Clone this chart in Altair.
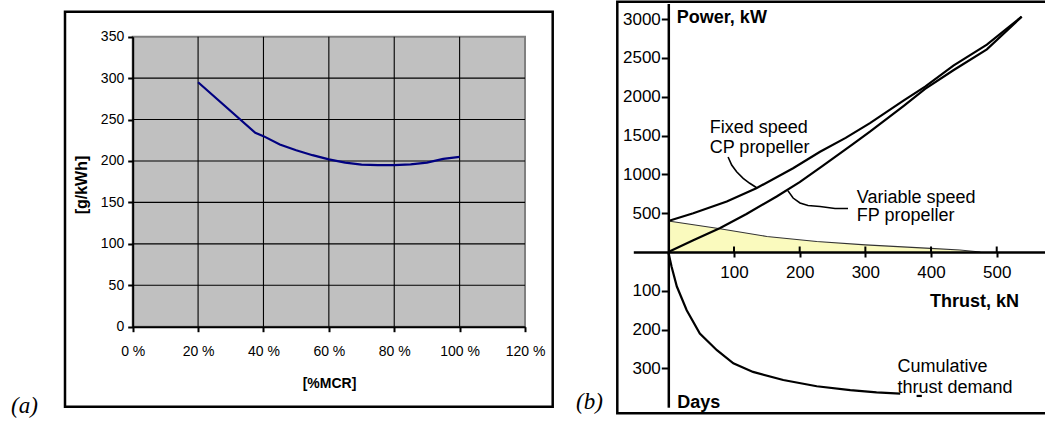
import altair as alt
import pandas as pd

# ---------------- data : panel (a) ----------------
mcr_pct = [20, 37.5, 40, 45, 50, 55, 60, 65, 70, 75, 80, 85, 90, 95, 100]
sfoc = [295, 234, 230, 220, 213, 207, 202, 198, 195.5, 195, 195, 196, 198, 202.5, 205]
a_xticks = [0, 20, 40, 60, 80, 100, 120]
a_yticks = [0, 50, 100, 150, 200, 250, 300, 350]

# ---------------- data : panel (b) ----------------
fixed_thrust = [0, 38, 89, 134, 190, 231, 270, 307, 358, 391, 434, 485, 538]
fixed_power = [400, 498, 649, 821, 1078, 1291, 1470, 1660, 1950, 2130, 2400, 2670, 3030]
var_thrust = [0, 38, 79, 119, 165, 200, 235, 281, 307, 358, 391, 434, 485, 538]
var_power = [0, 150, 310, 490, 715, 900, 1110, 1390, 1550, 1880, 2100, 2340, 2610, 3030]
dist_thrust = [0, 74, 150, 226, 300, 399, 444, 475]
dist_power = [400, 305, 200, 135, 92, 47, 26, 0]
cum_thrust = [0, 5, 13, 28, 48, 74, 99, 129, 175, 226, 277, 317, 353]
cum_days = [0, 38, 89, 150, 210, 253, 287, 309, 330, 346, 356, 362, 365]
cum_tail_thrust = [378, 386]
cum_tail_days = [371, 371]
cp_leader_thrust = [91, 96.5, 104, 114, 124, 134]
cp_leader_power = [1223, 1120, 1034, 949, 885, 830]
fp_leader_thrust = [182, 190, 200.5, 212.7, 231, 253.8, 273.6]
fp_leader_power = [790, 695, 631, 599, 586, 560, 560]
power_ticks = [500, 1000, 1500, 2000, 2500, 3000]
thrust_ticks = [100, 200, 300, 400, 500]
days_ticks = [100, 200, 300]

power_labels = ["Fixed speed", "CP propeller", "Variable speed", "FP propeller"]
power_label_t = [63, 63, 287, 287]
power_label_p = [1600, 1343, 699, 464]
days_labels = ["Cumulative", "thrust demand"]
days_label_t = [349, 349]
days_label_d = [297, 350]
bold_power_labels = ["Power, kW"]
bold_power_t = [13]
bold_power_p = [3009]
bold_days_labels = ["Thrust, kN", "Days"]
bold_days_t = [398.5, 13.7]
bold_days_d = [128, 389]

FONT = "Liberation Sans, Arial, Helvetica, sans-serif"
SERIF = "Liberation Serif, Times New Roman, serif"

# ---------------- scales ----------------
ax_scale = alt.Scale(domain=[0, 120], range=[132.7, 525], nice=False, zero=False)
ay_scale = alt.Scale(domain=[0, 350], range=[326.7, 36.7], nice=False, zero=False)
bx_scale = alt.Scale(domain=[-53.3, 573.5], range=[633.3, 1045], nice=False, zero=False)
bp_scale = alt.Scale(domain=[0, 3200], range=[252, 3.5], nice=False, zero=False)
bd_scale = alt.Scale(domain=[0, 400], range=[252, 407.2], nice=False, zero=False)

one = alt.Data(values=[{"k": 1}])

# ---------------- frames & panel letters ----------------
frame_a = alt.Chart(one).mark_rect(fillOpacity=0, stroke="black", strokeWidth=2.5).encode(
    x=alt.value(65), x2=alt.value(552.7), y=alt.value(11.7), y2=alt.value(406.7))
frame_b = alt.Chart(one).mark_rect(fillOpacity=0, stroke="black", strokeWidth=2.5).encode(
    x=alt.value(617.3), x2=alt.value(1049), y=alt.value(1.8), y2=alt.value(413.3))
letter_a = alt.Chart(one).mark_text(text="(a)", font=SERIF, fontStyle="italic", fontSize=23,
                                    align="left", baseline="alphabetic", color="black").encode(
    x=alt.value(11), y=alt.value(413))
letter_b = alt.Chart(one).mark_text(text="(b)", font=SERIF, fontStyle="italic", fontSize=23,
                                    align="left", baseline="alphabetic", color="black").encode(
    x=alt.value(576), y=alt.value(409))

# ---------------- panel (a) ----------------
bg_df = pd.DataFrame({"x0": [a_xticks[0]], "x1": [a_xticks[-1]],
                      "y0": [a_yticks[0]], "y1": [a_yticks[-1]]})
bg_a = alt.Chart(bg_df).mark_rect(fill="#C0C0C0", stroke="#808080", strokeWidth=2).encode(
    x=alt.X("x0:Q", scale=ax_scale, axis=alt.Axis(
        orient="bottom", offset=-95.3, values=a_xticks, labelExpr="datum.value + ' %'",
        domainColor="black", domainWidth=2, tickColor="black", tickWidth=2, tickSize=5,
        labelFont=FONT, labelFontSize=14, labelColor="black", labelPadding=13,
        labelFlush=False, labelOverlap=False, grid=False, zindex=1,
        title="[%MCR]", titleFont=FONT, titleFontSize=14, titleFontWeight="bold",
        titleColor="black", titleX=329, titleY=56.3, titleBaseline="middle", titleAlign="center")),
    x2="x1",
    y=alt.Y("y0:Q", scale=ay_scale, axis=alt.Axis(
        orient="left", offset=-132.7, values=a_yticks,
        domainColor="black", domainWidth=2, tickColor="black", tickWidth=2, tickSize=5,
        labelFont=FONT, labelFontSize=14, labelColor="black", labelPadding=4,
        labelFlush=False, labelOverlap=False, grid=False, zindex=1,
        title="[g/kWh]", titleFont=FONT, titleFontSize=16, titleFontWeight="bold",
        titleColor="black", titleX=-51.2, titleY=184.5, titleAngle=270,
        titleBaseline="middle", titleAlign="center")),
    y2="y1")

vgrid_df = pd.DataFrame({"x": a_xticks[1:-1]})
vgrid_df["y0"] = a_yticks[0]
vgrid_df["y1"] = a_yticks[-1]
vgrid = alt.Chart(vgrid_df).mark_rule(color="black", strokeWidth=1.1).encode(
    x=alt.X("x:Q", scale=ax_scale, axis=None),
    y=alt.Y("y0:Q", scale=ay_scale, axis=None), y2="y1")

hgrid_df = pd.DataFrame({"y": a_yticks[1:-1]})
hgrid_df["x0"] = a_xticks[0]
hgrid_df["x1"] = a_xticks[-1]
hgrid = alt.Chart(hgrid_df).mark_rule(color="black", strokeWidth=1.1).encode(
    y=alt.Y("y:Q", scale=ay_scale, axis=None),
    x=alt.X("x0:Q", scale=ax_scale, axis=None), x2="x1")

line_a = alt.Chart(pd.DataFrame({"mcr": mcr_pct, "sfoc": sfoc})).mark_line(
    color="#000080", strokeWidth=2.2).encode(
    x=alt.X("mcr:Q", scale=ax_scale, axis=None),
    y=alt.Y("sfoc:Q", scale=ay_scale, axis=None))

# ---------------- panel (b) ----------------
dist_df = pd.DataFrame({"t": dist_thrust, "p": dist_power})
area_b = alt.Chart(dist_df).mark_area(color="#FAFABE", opacity=1).encode(
    x=alt.X("t:Q", scale=bx_scale, axis=None),
    y=alt.Y("p:Q", scale=bp_scale, axis=None), y2=alt.datum(0))
edge_b = alt.Chart(dist_df).mark_line(color="#333333", strokeWidth=1.1).encode(
    x=alt.X("t:Q", scale=bx_scale, axis=None),
    y=alt.Y("p:Q", scale=bp_scale, axis=None))

curves_df = pd.concat([
    pd.DataFrame({"t": fixed_thrust, "p": fixed_power, "s": "Fixed speed CP propeller"}),
    pd.DataFrame({"t": var_thrust, "p": var_power, "s": "Variable speed FP propeller"}),
])
curves_b = alt.Chart(curves_df).mark_line(color="black", strokeWidth=2.2).encode(
    x=alt.X("t:Q", scale=bx_scale, axis=alt.Axis(
        orient="bottom", offset=-170, values=thrust_ticks, format="d",
        domainColor="black", domainWidth=2.5, tickColor="black", tickWidth=2, tickSize=5,
        labelFont=FONT, labelFontSize=17, labelColor="black", labelPadding=7,
        labelFlush=False, labelOverlap=False, grid=False, title=None, zindex=1)),
    y=alt.Y("p:Q", scale=bp_scale, axis=alt.Axis(
        orient="left", offset=-668.3, values=power_ticks, format="d",
        domainColor="black", domainWidth=2.5, tickColor="black", tickWidth=2, tickSize=7,
        labelFont=FONT, labelFontSize=17, labelColor="black", labelPadding=1,
        labelFlush=False, labelOverlap=False, grid=False, title=None, zindex=1)),
    detail="s:N")

tick_up = alt.Chart(pd.DataFrame({"t": thrust_ticks})).mark_rule(color="black", strokeWidth=2).encode(
    x=alt.X("t:Q", scale=bx_scale, axis=None), y=alt.value(246.5), y2=alt.value(252))

cum_df = pd.concat([
    pd.DataFrame({"t": cum_thrust, "d": cum_days, "s": "main"}),
    pd.DataFrame({"t": cum_tail_thrust, "d": cum_tail_days, "s": "tail"}),
])
cum_b = alt.Chart(cum_df).mark_line(color="black", strokeWidth=2.2).encode(
    x=alt.X("t:Q", scale=bx_scale, axis=None),
    y=alt.Y("d:Q", scale=bd_scale, axis=alt.Axis(
        orient="left", offset=-668.3, values=days_ticks, format="d",
        domainColor="black", domainWidth=2.5, tickColor="black", tickWidth=2, tickSize=7,
        labelFont=FONT, labelFontSize=17, labelColor="black", labelPadding=1,
        labelFlush=False, labelOverlap=False, grid=False, title=None, zindex=1)),
    detail="s:N")

leader_df = pd.concat([
    pd.DataFrame({"t": cp_leader_thrust, "p": cp_leader_power, "s": "cp"}),
    pd.DataFrame({"t": fp_leader_thrust, "p": fp_leader_power, "s": "fp"}),
])
leaders_b = alt.Chart(leader_df).mark_line(color="black", strokeWidth=1.6).encode(
    x=alt.X("t:Q", scale=bx_scale, axis=None),
    y=alt.Y("p:Q", scale=bp_scale, axis=None), detail="s:N")

txt_p = alt.Chart(pd.DataFrame({"label": power_labels, "t": power_label_t, "p": power_label_p})).mark_text(
    align="left", baseline="middle", font=FONT, fontSize=18, color="black").encode(
    x=alt.X("t:Q", scale=bx_scale, axis=None), y=alt.Y("p:Q", scale=bp_scale, axis=None), text="label:N")
txt_pb = alt.Chart(pd.DataFrame({"label": bold_power_labels, "t": bold_power_t, "p": bold_power_p})).mark_text(
    align="left", baseline="middle", font=FONT, fontSize=18, fontWeight="bold", color="black").encode(
    x=alt.X("t:Q", scale=bx_scale, axis=None), y=alt.Y("p:Q", scale=bp_scale, axis=None), text="label:N")
txt_d = alt.Chart(pd.DataFrame({"label": days_labels, "t": days_label_t, "d": days_label_d})).mark_text(
    align="left", baseline="middle", font=FONT, fontSize=18, color="black").encode(
    x=alt.X("t:Q", scale=bx_scale, axis=None), y=alt.Y("d:Q", scale=bd_scale, axis=None), text="label:N")
txt_db = alt.Chart(pd.DataFrame({"label": bold_days_labels, "t": bold_days_t, "d": bold_days_d})).mark_text(
    align="left", baseline="middle", font=FONT, fontSize=18, fontWeight="bold", color="black").encode(
    x=alt.X("t:Q", scale=bx_scale, axis=None), y=alt.Y("d:Q", scale=bd_scale, axis=None), text="label:N")

chart = alt.layer(
    frame_a, frame_b, letter_a, letter_b,
    bg_a, vgrid, hgrid, line_a,
    area_b, edge_b, curves_b, tick_up, cum_b, leaders_b,
    txt_p, txt_pb, txt_d, txt_db,
).resolve_scale(x="independent", y="independent").properties(
    width=1045, height=422, padding=0, background="white",
    autosize=alt.AutoSizeParams(type="none"),
).configure_view(stroke=None)

chart.save("out.html", embed_options={"renderer": "svg", "actions": False})
